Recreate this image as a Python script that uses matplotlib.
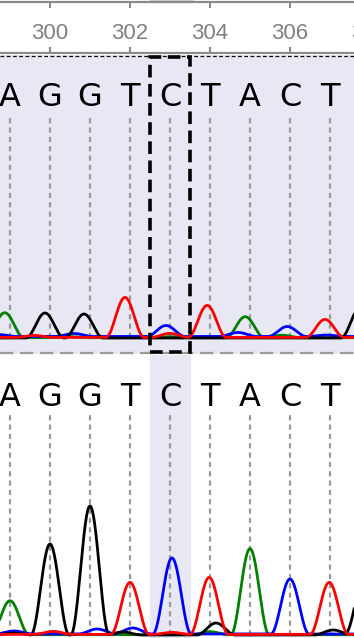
import numpy as np
import matplotlib
matplotlib.use("Agg")
import matplotlib.pyplot as plt
from matplotlib.patches import Rectangle

# ---------------- data ----------------
bases = ["A", "G", "G", "T", "C", "T", "A", "C", "T"]
base_pos = [299, 300, 301, 302, 303, 304, 305, 306, 307]
ruler_ticks = [300, 302, 304, 306, 308]
highlight_pos = 303

# top (reference) chromatogram: peak positions and heights
top_green_pos = [298.87, 300.5, 303.0, 304.88, 305.8]
top_green_h = [25, 1.0, 1.0, 21, 2.5]
top_black_pos = [299.875, 300.85, 307.75]
top_black_h = [25, 24, 30]
top_red_pos = [299.6, 301.875, 303.0, 303.93, 306.875]
top_red_h = [2, 40, 4, 32, 18]
top_blue_pos = [298.7, 300.6, 302.9, 304.7, 305.93, 306.9]
top_blue_h = [2, 3, 11, 4, 10, 1.5]

# bottom (sample) chromatogram
bot_green_pos = [299.0, 304.0, 305.0]
bot_green_h = [34, 3, 86]
bot_black_pos = [299.1, 300.0, 301.0, 301.82, 304.15, 307.08, 307.85]
bot_black_h = [2, 91, 129, 3, 12, 5, 55]
bot_red_pos = [300.08, 302.0, 303.05, 303.98, 306.98]
bot_red_h = [3, 52, 2, 57, 52]
bot_blue_pos = [299.1, 301.18, 302.07, 303.05, 306.0]
bot_blue_h = [3, 5, 6, 76, 55]

# ---------------- style ----------------
W, H = 354, 638
LAV = "#E8E8F5"
XMIN, XMAX = 298.75, 307.6
HALF_W = 0.48
COLORS = {"green": "#008000", "blue": "#0000FF", "black": "#000000", "red": "#FF0000"}
LW = 2.0
GRID_KW = dict(color="#999999", lw=1.6, ls=(0, (2.3, 1.9)), zorder=1)


def rect(top, bottom):
    return [0, 1 - bottom / H, 1, (bottom - top) / H]


def trace(pos, h, x):
    y = np.zeros_like(x)
    for p, a in zip(pos, h):
        d = np.clip((x - p) / HALF_W, -1, 1)
        y += a * np.cos(d * np.pi / 2) ** 2
    return y


fig = plt.figure(figsize=(W / 100, H / 100), dpi=100)
x = np.linspace(XMIN - 0.5, XMAX + 0.5, 2000)

# ---------------- ruler ----------------
ax_r = fig.add_axes(rect(2, 53))
ax_r.set_xlim(XMIN, XMAX)
ax_r.set_ylim(0, 1)
for s in ["left", "right"]:
    ax_r.spines[s].set_visible(False)
for s in ["top", "bottom"]:
    ax_r.spines[s].set_color("#8a8a8a")
    ax_r.spines[s].set_linewidth(1.6)
ax_r.set_xticks([t for t in ruler_ticks if XMIN <= t <= XMAX])
ax_r.tick_params(axis="x", which="both", direction="in", top=True, bottom=True,
                 length=4, width=1.5, color="#8a8a8a", labelbottom=False)
ax_r.set_yticks([])
for t in ruler_ticks:
    ax_r.text(t, 0.27, str(t), ha="center", va="baseline", fontsize=16,
              family="Liberation Sans", color="#808080", clip_on=False)
ax_r.add_patch(Rectangle((302.5, 1.0), 1.05, 0.06, color="#cfcfcf",
                         clip_on=False, transform=ax_r.transData))

# ---------------- top panel ----------------
ax_t = fig.add_axes(rect(55, 354))
ax_t.set_xlim(XMIN, XMAX)
ax_t.set_ylim(-16, 283)
ax_t.axis("off")
ax_t.add_patch(Rectangle((XMIN, -16), XMAX - XMIN, 299, color=LAV, zorder=0))
ax_t.axhline(282, color="black", lw=0.9, ls=(0, (3, 2)))
for p, b in zip(base_pos, bases):
    ax_t.plot([p, p], [0, 221], **GRID_KW)
    ax_t.text(p, 232, b, ha="center", va="baseline", fontsize=23,
              family="DejaVu Sans", color="black")
ax_t.plot(x, 0.3 + trace(top_green_pos, top_green_h, x), color=COLORS["green"], lw=LW)
ax_t.plot(x, 1.5 + trace(top_blue_pos, top_blue_h, x), color=COLORS["blue"], lw=LW)
ax_t.plot(x, trace(top_black_pos, top_black_h, x), color=COLORS["black"], lw=LW)
ax_t.plot(x, 0.6 + trace(top_red_pos, top_red_h, x), color=COLORS["red"], lw=LW)
ax_t.plot([XMIN, XMAX], [-15, -15], color="#9a9a9a", lw=1.6, ls=(0, (6, 3)),
          clip_on=False)
ax_t.add_patch(Rectangle((highlight_pos - 0.5, -14), 1.0, 295, fill=False,
                         ec="black", lw=2.6, ls=(0, (3.5, 1.8)), zorder=5,
                         clip_on=False))

# ---------------- bottom panel ----------------
ax_b = fig.add_axes(rect(355, 638))
ax_b.set_xlim(XMIN, XMAX)
ax_b.set_ylim(-3, 280)
ax_b.axis("off")
ax_b.axvspan(highlight_pos - 0.5, highlight_pos + 0.5, color=LAV, zorder=0)
for p, b in zip(base_pos, bases):
    ax_b.plot([p, p], [0, 220], **GRID_KW)
    ax_b.text(p, 229, b, ha="center", va="baseline", fontsize=23,
              family="DejaVu Sans", color="black")
ax_b.plot(x, 0.3 + trace(bot_green_pos, bot_green_h, x), color=COLORS["green"], lw=LW)
ax_b.plot(x, 1.0 + trace(bot_blue_pos, bot_blue_h, x), color=COLORS["blue"], lw=LW)
ax_b.plot(x, trace(bot_black_pos, bot_black_h, x), color=COLORS["black"], lw=LW)
ax_b.plot(x, 0.6 + trace(bot_red_pos, bot_red_h, x), color=COLORS["red"], lw=LW)

fig.savefig("out.png", dpi=100)
